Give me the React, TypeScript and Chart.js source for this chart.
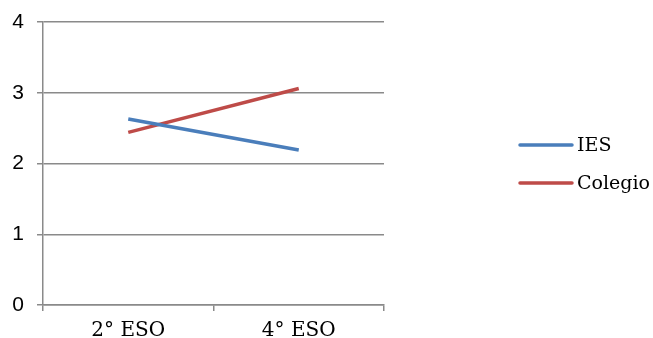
import React, { useEffect, useRef } from "react";
import { Chart, registerables } from "chart.js";

Chart.register(...registerables);

const categories = ["2° ESO", "4° ESO"];
const iesValues = [2.63, 2.19];
const colegioValues = [2.44, 3.06];
const yTicks = [0, 1, 2, 3, 4];

const seriesNames = ["IES", "Colegio"];
const seriesColors = ["#4A7EBB", "#BE4B48"];
const axisColor = "#8a8a8a";

const legendPlugin = {
  id: "sideLegend",
  afterDraw(chart: any) {
    const ctx = chart.ctx;
    const rows = [145, 183];
    ctx.save();
    chart.data.datasets.forEach((ds: any, i: number) => {
      const y = rows[i];
      ctx.strokeStyle = ds.borderColor;
      ctx.lineWidth = 3.5;
      ctx.lineCap = "round";
      ctx.beginPath();
      ctx.moveTo(520, y);
      ctx.lineTo(572, y);
      ctx.stroke();
      ctx.fillStyle = "#000";
      ctx.font = "19px 'DejaVu Serif'";
      ctx.textBaseline = "middle";
      ctx.textAlign = "left";
      ctx.fillText(ds.label, 577, y + 1);
    });
    ctx.restore();
  },
};

export default function App() {
  const ref = useRef<HTMLCanvasElement | null>(null);

  useEffect(() => {
    if (!ref.current) return;
    const chart = new Chart(ref.current, {
      type: "line",
      data: {
        labels: categories,
        datasets: [
          {
            label: seriesNames[0],
            data: iesValues,
            borderColor: seriesColors[0],
            backgroundColor: seriesColors[0],
            borderWidth: 3.5,
            pointRadius: 0,
            tension: 0,
          },
          {
            label: seriesNames[1],
            data: colegioValues,
            borderColor: seriesColors[1],
            backgroundColor: seriesColors[1],
            borderWidth: 3.5,
            pointRadius: 0,
            tension: 0,
          },
        ],
      },
      options: {
        responsive: false,
        animation: false,
        devicePixelRatio: 1,
        layout: { padding: { top: 22, right: 269, left: 0, bottom: 0 } },
        plugins: {
          legend: { display: false },
          tooltip: { enabled: false },
        },
        scales: {
          x: {
            type: "category",
            offset: true,
            grid: {
              offset: true,
              drawOnChartArea: false,
              drawTicks: true,
              tickLength: 6,
              color: axisColor,
              lineWidth: 1.5,
            },
            border: { display: true, color: axisColor, width: 1.5 },
            ticks: {
              color: "#000",
              font: { family: "'DejaVu Serif'", size: 20 },
              padding: 8,
              maxRotation: 0,
            },
            afterFit(scale: any) {
              scale.height = 33;
              scale.paddingLeft = 0;
              scale.paddingRight = 0;
            },
          },
          y: {
            min: 0,
            max: 4,
            afterBuildTicks(scale: any) {
              scale.ticks = yTicks.map((v) => ({ value: v }));
            },
            grid: {
              color: axisColor,
              lineWidth: 1.5,
              drawTicks: true,
              tickLength: 6,
            },
            border: { display: true, color: axisColor, width: 1.5 },
            ticks: {
              color: "#000",
              font: { family: "'Liberation Sans'", size: 21 },
              padding: 13,
            },
            afterFit(scale: any) {
              scale.width = 43;
              scale.paddingTop = 0;
              scale.paddingBottom = 0;
            },
          },
        },
      },
      plugins: [legendPlugin],
    });
    return () => chart.destroy();
  }, []);

  return (
    <div style={{ position: "absolute", left: 0, top: 0, width: 653, height: 338, background: "#fff" }}>
      <canvas ref={ref} width={653} height={338} style={{ display: "block" }} />
    </div>
  );
}
